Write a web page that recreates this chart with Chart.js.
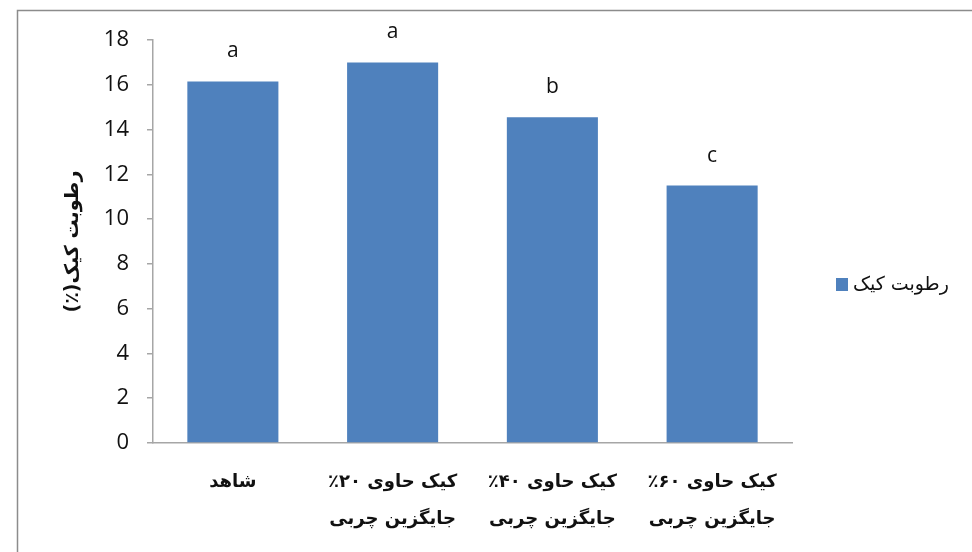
<!DOCTYPE html>
<html lang="fa">
<head>
<meta charset="utf-8">
<script src="https://cdn.jsdelivr.net/npm/chart.js@4.4.1/dist/chart.umd.min.js"></script>
<style>
  html, body { margin: 0; padding: 0; background: #fff; }
  #wrap { width: 972px; height: 552px; }
  canvas { direction: rtl; }
</style>
</head>
<body>
<div id="wrap"><canvas id="moistureChart" width="972" height="552"></canvas></div>
<script>
// دسته‌ها و مقادیر
const categories = [
  'شاهد',
  ['کیک حاوی ۲۰٪', 'جایگزین چربی'],
  ['کیک حاوی ۴۰٪', 'جایگزین چربی'],
  ['کیک حاوی ۶۰٪', 'جایگزین چربی']
];
const moisture = [16.15, 17.0, 14.55, 11.5];
const groupLetters = ['a', 'a', 'b', 'c'];
const seriesName = 'رطوبت کیک';
const yTitle = 'رطوبت کیک(٪)';

const barColor = '#4F81BD';
const axisColor = '#A6A6A6';

// قاب دور نمودار، حروف بالای ستون‌ها و راهنما
const extras = {
  id: 'extras',
  beforeDraw(chart) {
    const c = chart.ctx;
    c.save();
    c.fillStyle = '#fff';
    c.fillRect(0, 0, chart.width, chart.height);
    c.strokeStyle = '#8C8C8C';
    c.lineWidth = 1.5;
    c.strokeRect(17.5, 10.5, chart.width, chart.height);
    c.restore();
  },
  afterDatasetsDraw(chart) {
    const c = chart.ctx;
    const meta = chart.getDatasetMeta(0);
    c.save();
    c.direction = 'ltr';
    c.fillStyle = '#111';
    c.font = '21px "Open Sans", sans-serif';
    c.textAlign = 'center';
    c.textBaseline = 'middle';
    meta.data.forEach((bar, i) => {
      c.fillText(groupLetters[i], bar.x, bar.y - 30);
    });
    c.restore();
  },
  afterDraw(chart) {
    const c = chart.ctx;
    c.save();
    c.fillStyle = barColor;
    c.fillRect(836, 278, 12, 13);
    c.fillStyle = '#111';
    c.font = '19px "DejaVu Sans", sans-serif';
    c.direction = 'rtl';
    c.textAlign = 'left';
    c.textBaseline = 'middle';
    c.fillText(seriesName, 853, 285);
    c.restore();
  }
};

const ctx = document.getElementById('moistureChart').getContext('2d');
new Chart(ctx, {
  type: 'bar',
  data: {
    labels: categories,
    datasets: [{
      label: seriesName,
      data: moisture,
      backgroundColor: barColor,
      borderWidth: 0,
      categoryPercentage: 1,
      barPercentage: 0.57
    }]
  },
  options: {
    responsive: false,
    animation: false,
    devicePixelRatio: 1,
    layout: { padding: { left: 0, right: 180, top: 40, bottom: 0 } },
    plugins: {
      legend: { display: false },
      tooltip: { enabled: false }
    },
    scales: {
      x: {
        grid: { display: false },
        border: { color: axisColor, width: 1.5 },
        ticks: {
          color: '#111',
          padding: 12,
          maxRotation: 0,
          autoSkip: false,
          font: { family: '"DejaVu Sans", sans-serif', size: 18, weight: 'bold', lineHeight: 2.1 }
        },
        afterFit(scale) { scale.height = 109; }
      },
      y: {
        min: 0,
        max: 18,
        ticks: {
          stepSize: 2,
          color: '#111',
          padding: 18,
          font: { family: '"Open Sans", sans-serif', size: 22 }
        },
        grid: {
          drawOnChartArea: false,
          drawTicks: true,
          tickLength: 6,
          color: axisColor,
          lineWidth: 1.5
        },
        border: { color: axisColor, width: 1.5 },
        title: {
          display: true,
          text: yTitle,
          color: '#111',
          padding: { top: 62, bottom: 0 },
          font: { family: '"DejaVu Sans", sans-serif', size: 19, weight: 'bold', lineHeight: 1.2 }
        },
        afterFit(scale) { scale.width = 153; }
      }
    }
  },
  plugins: [extras]
});
</script>
</body>
</html>
